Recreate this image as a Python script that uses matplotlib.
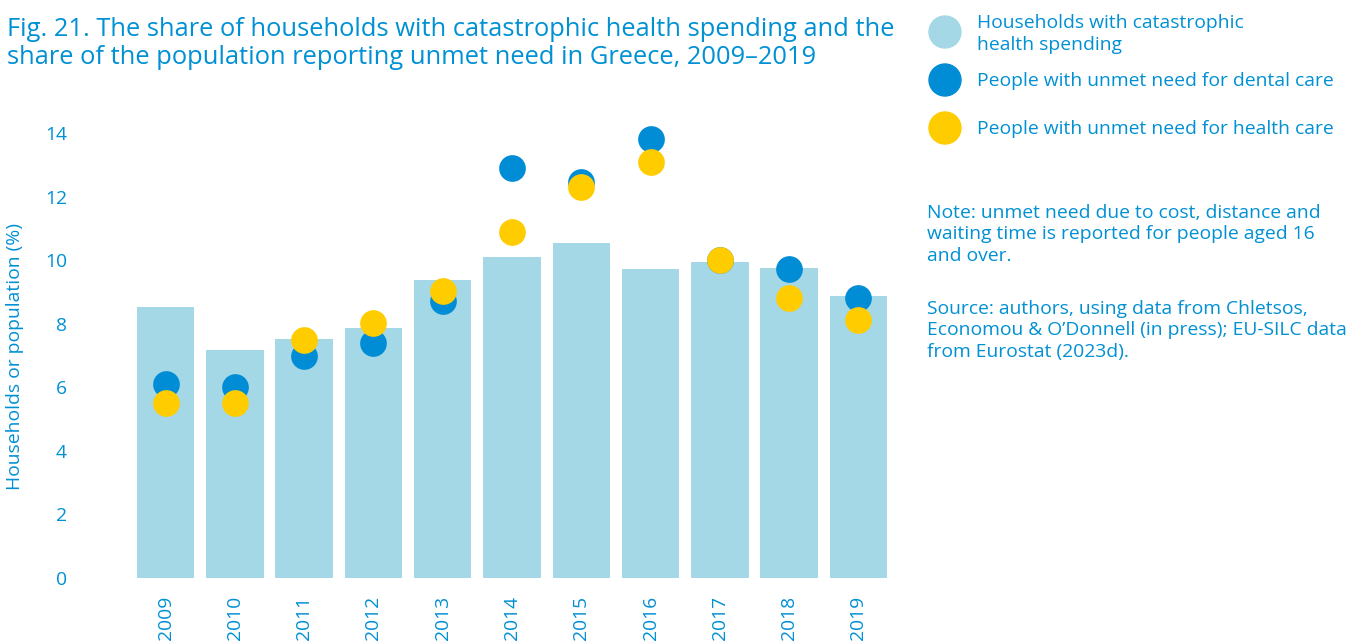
import matplotlib
matplotlib.use("Agg")
import matplotlib.pyplot as plt
import numpy as np

years = ["2009", "2010", "2011", "2012", "2013", "2014", "2015", "2016", "2017", "2018", "2019"]
catastrophic = [8.52, 7.17, 7.52, 7.86, 9.37, 10.09, 10.53, 9.72, 9.94, 9.75, 8.87]
dental = [6.11, 6.0, 7.0, 7.38, 8.7, 12.9, 12.46, 13.8, 10.0, 9.72, 8.81]
health = [5.51, 5.51, 7.49, 8.01, 9.03, 10.89, 12.3, 13.1, 9.99, 8.8, 8.11]
yticks = [0, 2, 4, 6, 8, 10, 12, 14]

C_BAR = "#A5D8E6"
C_DENTAL = "#008DD5"
C_HEALTH = "#FFCC00"
C_TEXT = "#0090D4"
FONT = "Open Sans"
FS = 13.9

plt.rcParams["font.family"] = [FONT, "DejaVu Sans"]

fig = plt.figure(figsize=(13.68, 6.41), dpi=100)
H = 641.0
W = 1368.0
ax_left, ax_right = 131, 893
y0_px, y14_px = 578, 133
ymax = 14.6
unit = (y0_px - y14_px) / 14.0
top_px = y0_px - ymax * unit
ax = fig.add_axes([ax_left / W, (H - y0_px) / H, (ax_right - ax_left) / W, (y0_px - top_px) / H])

x = np.arange(len(years))
ax.bar(x, catastrophic, width=0.83, color=C_BAR, zorder=1)
ax.scatter(x, dental, s=370, color=C_DENTAL, zorder=2, clip_on=False, linewidths=0)
ax.scatter(x, health, s=370, color=C_HEALTH, zorder=3, clip_on=False, linewidths=0)

ax.set_xlim(-0.5, len(years) - 0.5)
ax.set_ylim(0, ymax)
ax.set_yticks(yticks)
ax.set_yticklabels([str(v) for v in yticks])
ax.set_xticks(x)
ax.set_xticklabels(years, rotation=90, va="top", ha="center")
ax.tick_params(axis="both", length=0, colors=C_TEXT, labelsize=FS)
ax.tick_params(axis="y", pad=46)
ax.tick_params(axis="x", pad=13)
for sp in ax.spines.values():
    sp.set_visible(False)

fig.text(15 / W, 1 - 357 / H, "Households or population (%)", rotation=90,
         ha="center", va="center", color=C_TEXT, fontsize=FS)

fig.text(7 / W, 1 - 17 / H,
         "Fig. 21. The share of households with catastrophic health spending and the\n"
         "share of the population reporting unmet need in Greece, 2009\u20132019",
         ha="left", va="top", color=C_TEXT, fontsize=18.4, linespacing=1.17)

# Legend
leg_items = [
    (C_BAR, "Households with catastrophic\nhealth spending", 32),
    (C_DENTAL, "People with unmet need for dental care", 80),
    (C_HEALTH, "People with unmet need for health care", 128),
]
for col, label, ypx in leg_items:
    fig.patches.append(matplotlib.patches.Ellipse((945 / W, 1 - ypx / H), 32 / W, 32 / H,
                                                  transform=fig.transFigure, color=col, figure=fig))
fig.text(977 / W, 1 - 34 / H, leg_items[0][1], ha="left", va="center", color=C_TEXT,
         fontsize=FS, linespacing=1.35)
fig.text(977 / W, 1 - 81 / H, leg_items[1][1], ha="left", va="center", color=C_TEXT, fontsize=FS)
fig.text(977 / W, 1 - 129 / H, leg_items[2][1], ha="left", va="center", color=C_TEXT, fontsize=FS)

fig.text(927 / W, 1 - 204 / H,
         "Note: unmet need due to cost, distance and\nwaiting time is reported for people aged 16\nand over.",
         ha="left", va="top", color=C_TEXT, fontsize=FS, linespacing=1.24)
fig.text(927 / W, 1 - 300 / H,
         "Source: authors, using data from Chletsos,\nEconomou & O\u2019Donnell (in press); EU-SILC data\nfrom Eurostat (2023d).",
         ha="left", va="top", color=C_TEXT, fontsize=FS, linespacing=1.24)

fig.savefig("out.png", dpi=100)
